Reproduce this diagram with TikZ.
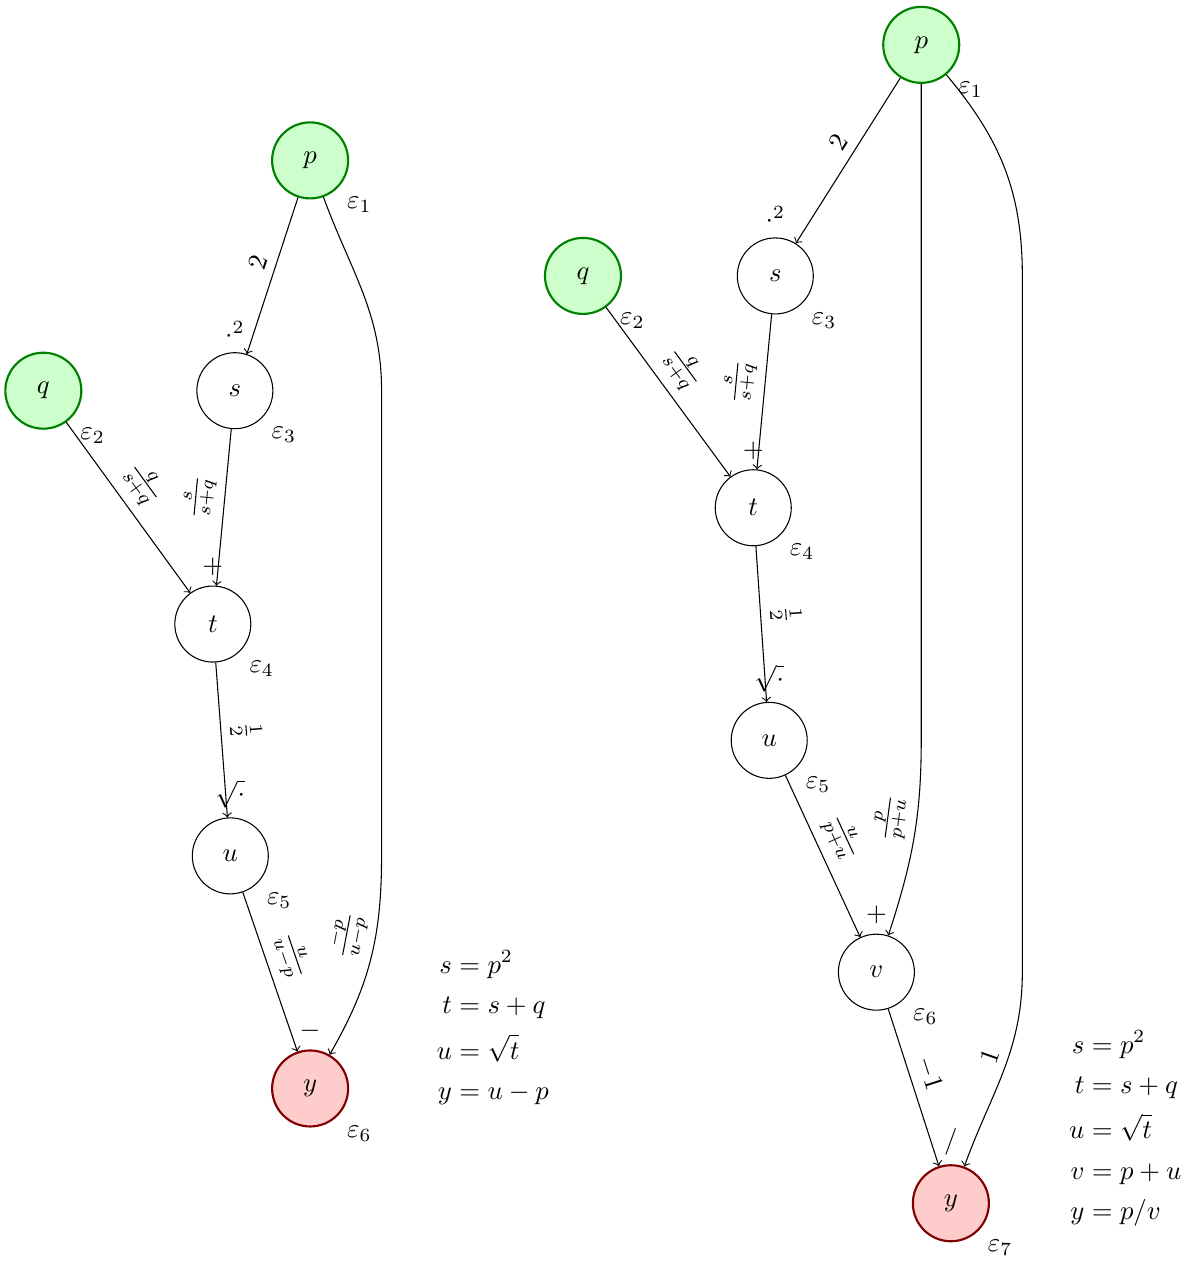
\documentclass[tikz,border=0pt]{standalone}
\usepackage{amsmath}

\begin{document}
\begin{tikzpicture}[
        var/.style={circle, draw, minimum size=1cm},
        inp/.style={var, thick, draw=green!50!black, fill=green!20},
        outp/.style={var, thick, draw=red!50!black, fill=red!20},
        wt/.style={sloped, above, pos=.45}]
    \useasboundingbox (0,0) rectangle (15.59,-16.59);

    % y = sqrt(p^2+q) - p
    \node[inp, label=-45:$\varepsilon_1$] (p1) at (4.08,-2.11) {$p$};
    \node[inp, label=-45:$\varepsilon_2$] (q1) at (0.57,-5.14) {$q$};
    \node[var, label=-45:$\varepsilon_3$, label=above:$\cdot^2$] (s1) at (3.09,-5.14) {$s$};
    \node[var, label=-45:$\varepsilon_4$, label=above:$+$] (t1) at (2.80,-8.21) {$t$};
    \node[var, label=-45:$\varepsilon_5$, label=above:$\sqrt{\cdot}$] (u1) at (3.03,-11.26) {$u$};
    \node[outp, label=-45:$\varepsilon_6$, label=above:$-$] (y1) at (4.08,-14.32) {$y$};
    \coordinate (a1) at (5.02,-5.14);
    \coordinate (b1) at (5.02,-11.26);

    \draw[->] (p1) -- node[wt] {$2$} (s1);
    \draw[->] (q1) -- node[wt] {$\frac{q}{s+q}$} (t1);
    \draw[->] (s1) -- node[wt] {$\frac{s}{s+q}$} (t1);
    \draw[->] (t1) -- node[wt] {$\frac{1}{2}$} (u1);
    \draw[->] (u1) -- node[wt] {$\frac{u}{u-p}$} (y1);
    \draw[->] (p1) to[out=-70,in=90] (a1) -- (b1)
        to[out=-90,in=60] node[wt, pos=.4] {$\frac{-p}{u-p}$} (y1);

    \node[anchor=west] (eq1) at (5.62,-13.55) {$\begin{aligned}
        s &= p^2\\ t &= s+q\\ u &= \sqrt{t}\\ y &= u-p
    \end{aligned}$};

    % y = p / (p + sqrt(p^2+q))
    \node[inp, label=-45:$\varepsilon_1$] (p2) at (12.12,-0.59) {$p$};
    \node[inp, label=-45:$\varepsilon_2$] (q2) at (7.67,-3.63) {$q$};
    \node[var, label=-45:$\varepsilon_3$, label=above:$\cdot^2$] (s2) at (10.20,-3.63) {$s$};
    \node[var, label=-45:$\varepsilon_4$, label=above:$+$] (t2) at (9.91,-6.68) {$t$};
    \node[var, label=-45:$\varepsilon_5$, label=above:$\sqrt{\cdot}$] (u2) at (10.12,-9.74) {$u$};
    \node[var, label=-45:$\varepsilon_6$, label=above:$+$] (v2) at (11.53,-12.79) {$v$};
    \node[outp, label=-45:$\varepsilon_7$, label=above:$/$] (y2) at (12.51,-15.83) {$y$};
    \coordinate (a2) at (12.12,-9.74);
    \coordinate (b2) at (13.45,-3.63);
    \coordinate (c2) at (13.45,-12.79);

    \draw[->] (p2) -- node[wt] {$2$} (s2);
    \draw[->] (q2) -- node[wt] {$\frac{q}{s+q}$} (t2);
    \draw[->] (s2) -- node[wt] {$\frac{s}{s+q}$} (t2);
    \draw[->] (t2) -- node[wt] {$\frac{1}{2}$} (u2);
    \draw[->] (u2) -- node[wt] {$\frac{u}{p+u}$} (v2);
    \draw[->] (p2) -- (a2)
        to[out=-90,in=72] node[wt, pos=.4] {$\frac{p}{p+u}$} (v2);
    \draw[->] (v2) -- node[wt] {$-1$} (y2);
    \draw[->] (p2) to[out=-50,in=90] (b2) -- (c2)
        to[out=-90,in=70] node[wt] {$1$} (y2);

    \node[anchor=east, inner sep=0pt] (eq2) at (15.55,-14.86) {$\begin{aligned}
        s &= p^2\\ t &= s+q\\ u &= \sqrt{t}\\ v &= p+u\\ y &= p/v
    \end{aligned}$};
\end{tikzpicture}
\end{document}
